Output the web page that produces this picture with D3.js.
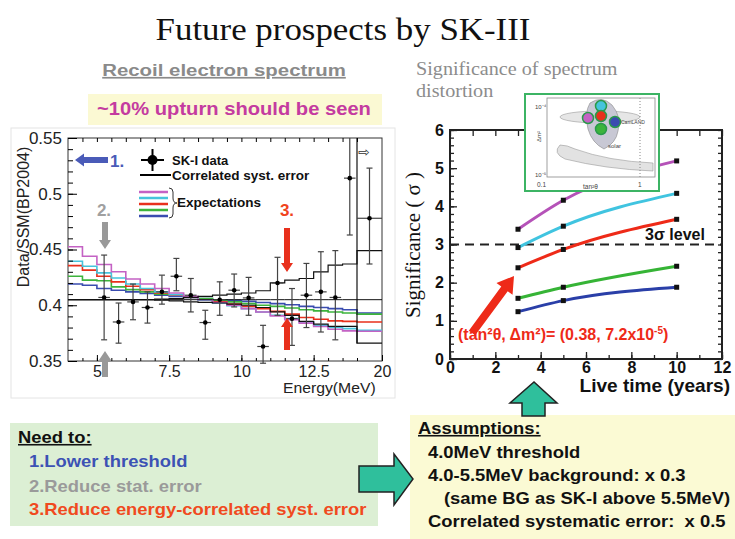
<!DOCTYPE html>
<html><head><meta charset="utf-8">
<script src="https://cdn.jsdelivr.net/npm/d3@7"></script>
<style>body{margin:0;background:#fff} svg{display:block} text{white-space:pre}</style>
</head><body><svg id="c" width="735" height="539"></svg>
<script>
// ---------- DATA: left panel (recoil electron spectrum) ----------
const binStarts = [4.0,4.5,5.0,5.5,6.0,6.5,7.0,7.5,8.0,8.5,9.0,9.5,10.0,10.5,11.0,11.5,12.0,12.5,13.0,13.5,14.0];
const binLast = 20;
const expPink  = [0.4525,0.444,0.4365,0.430,0.4235,0.419,0.415,0.411,0.408,0.405,0.4025,0.400,0.397,0.394,0.3905,0.387,0.384,0.381,0.3785,0.377,0.3767];
const expCyan  = [0.4395,0.435,0.429,0.4245,0.419,0.415,0.412,0.4095,0.407,0.4045,0.402,0.3995,0.397,0.394,0.391,0.388,0.385,0.382,0.380,0.379,0.3776];
const expRed   = [0.4355,0.4315,0.426,0.421,0.417,0.414,0.411,0.409,0.407,0.405,0.403,0.401,0.399,0.397,0.3945,0.392,0.389,0.3875,0.386,0.3855,0.385];
const expGreen = [0.426,0.4225,0.422,0.4165,0.414,0.412,0.410,0.409,0.4075,0.406,0.4045,0.403,0.4015,0.400,0.399,0.3975,0.396,0.395,0.394,0.393,0.392];
const expBlue  = [0.419,0.418,0.415,0.4135,0.412,0.4105,0.409,0.408,0.407,0.406,0.405,0.4045,0.4035,0.4025,0.4015,0.4005,0.399,0.398,0.397,0.396,0.393];
const systCentral = [0.405,0.405,0.405,0.405,0.405,0.405,0.405,0.405,0.405,0.405,0.405,0.405,0.405,0.405,0.405,0.405,0.405,0.405,0.405,0.405,0.405];
const systUpper = [0.405,0.405,0.405,0.405,0.405,0.405,0.4055,0.406,0.407,0.408,0.409,0.410,0.411,0.413,0.420,0.4225,0.424,0.430,0.436,0.437,0.449];
const systLower = [0.405,0.405,0.405,0.405,0.405,0.405,0.4045,0.404,0.403,0.4025,0.402,0.401,0.400,0.398,0.394,0.391,0.3855,0.383,0.381,0.381,0.366];
const dataE   = [5.25,5.75,6.25,6.75,7.25,7.75,8.25,8.75,9.25,9.75,10.25,10.75,11.25,11.75,12.25,12.75,13.25,13.75,17];
const dataVal = [0.407,0.385,0.403,0.398,0.412,0.426,0.409,0.3845,0.405,0.4135,0.4066,0.363,0.420,0.388,0.409,0.412,0.407,0.514,0.478];
const dataLo  = [0.369,0.366,0.387,0.384,0.401,0.413,0.394,0.3695,0.391,0.3985,0.391,0.348,0.391,0.364,0.380,0.376,0.369,0.463,0.437];
const dataHi  = [0.445,0.402,0.419,0.412,0.427,0.442,0.424,0.3955,0.421,0.428,0.425,0.382,0.443,0.415,0.4375,0.448,0.449,0.55,0.523];
const leftYTicks = [0.35,0.4,0.45,0.5,0.55];
const leftXTicks = [5,7.5,10,12.5,20];

// ---------- DATA: right panel (significance vs live time) ----------
const liveYears = [3,5,10];
const sigPink  = [3.40,4.16,5.19];
const sigCyan  = [2.92,3.48,4.34];
const sigRed   = [2.39,2.87,3.66];
const sigGreen = [1.59,1.88,2.43];
const sigBlue  = [1.24,1.53,1.88];
const rightXTicks = [0,2,4,6,8,10,12];
const rightYTicks = [0,1,2,3,4,5,6];

const svg = d3.select('#c');
const SANS = 'Liberation Sans, Arial, sans-serif';
const SERIF = 'Liberation Serif, Times New Roman, serif';
const C = {pink:'#c462c4', cyan:'#46c4dc', red:'#e8301c', green:'#3cb43c', blue:'#3a4cb0'};

function txt(parent, x, y, str, o){
  o = o||{};
  const t = parent.append('text')
    .attr('transform',`translate(${x},${y}) scale(${o.sx||1},1)`)
    .attr('font-family',o.family||SANS).attr('font-size',o.size||16)
    .attr('font-weight',o.bold?'bold':null).attr('fill',o.fill||'#111')
    .attr('text-anchor',o.anchor||'start');
  if(o.underline) t.attr('text-decoration','underline');
  if(o.html) t.html(str); else t.text(str);
  return t;
}

// ---------- titles ----------
txt(svg,343,40,'Future prospects by SK-III',{family:SERIF,size:32,sx:1.09,anchor:'middle'});
txt(svg,224,76,'Recoil electron spectrum',{size:17,bold:true,fill:'#8a8a8a',underline:true,sx:1.2,anchor:'middle'});
svg.append('rect').attr('x',88).attr('y',94).attr('width',294).attr('height',31).attr('fill','#fbf9d3');
txt(svg,234,115,'~10% upturn should be seen',{size:18,bold:true,fill:'#c43ba0',sx:1.12,anchor:'middle'});
txt(svg,416,75,'Significance of spectrum',{family:SERIF,size:18,fill:'#8c8c8c',sx:1.12});
txt(svg,416,97,'distortion',{family:SERIF,size:18,fill:'#8c8c8c',sx:1.12});

// ---------- left panel ----------
svg.append('rect').attr('x',11).attr('y',128).attr('width',384).attr('height',270).attr('fill','none').attr('stroke','#e4e4e4');
const xL = d3.scaleLinear().domain([4,14,20]).range([68,357,382]);
const yL = d3.scaleLinear().domain([0.35,0.55]).range([361,138]);
const gL = svg.append('g');
gL.append('rect').attr('x',68).attr('y',138).attr('width',314).attr('height',223).attr('fill','#fff').attr('stroke','#333').attr('stroke-width',1);

function stepPts(vals){ return binStarts.map((e,i)=>[e,vals[i]]).concat([[binLast, vals[vals.length-1]]]); }
const stepLine = d3.line().x(d=>xL(d[0])).y(d=>yL(d[1])).curve(d3.curveStepAfter);
[[expBlue,C.blue],[expGreen,C.green],[expRed,C.red],[expCyan,C.cyan],[expPink,C.pink]].forEach(([v,c])=>{
  gL.append('path').attr('d',stepLine(stepPts(v))).attr('fill','none').attr('stroke',c).attr('stroke-width',1.6);
});
[systCentral,systUpper,systLower].forEach((v,i)=>{
  gL.append('path').attr('d',stepLine(stepPts(v))).attr('fill','none').attr('stroke','#111').attr('stroke-width',i===0?1:1.2);
});
gL.append('line').attr('x1',xL(14)).attr('x2',xL(14)).attr('y1',yL(0.55)).attr('y2',yL(systLower[20])).attr('stroke','#111').attr('stroke-width',1.2);

dataE.forEach((e,i)=>{
  const x = xL(e), last = i===dataE.length-1;
  const g = gL.append('g').attr('stroke','#444').attr('stroke-width',1.2);
  g.append('line').attr('x1',x).attr('x2',x).attr('y1',yL(dataLo[i])).attr('y2',yL(dataHi[i]));
  g.append('line').attr('x1',x-3).attr('x2',x+3).attr('y1',yL(dataLo[i])).attr('y2',yL(dataLo[i]));
  if(dataHi[i]<0.55) g.append('line').attr('x1',x-3).attr('x2',x+3).attr('y1',yL(dataHi[i])).attr('y2',yL(dataHi[i]));
  const x1 = last ? xL(14) : xL(e-0.2), x2 = last ? xL(20) : xL(e+0.2);
  g.append('line').attr('x1',x1).attr('x2',x2).attr('y1',yL(dataVal[i])).attr('y2',yL(dataVal[i]));
  gL.append('circle').attr('cx',x).attr('cy',yL(dataVal[i])).attr('r',2.3).attr('fill','#000');
});
gL.append('text').attr('x',364).attr('y',157).attr('text-anchor','middle').attr('font-size',14).attr('font-family','DejaVu Sans').attr('fill','#333').text('⇨');

gL.append('g').attr('transform','translate(68,0)').call(d3.axisLeft(yL).tickValues(d3.range(0.35,0.5501,0.01)).tickSize(-5).tickFormat(''))
  .call(g=>g.select('.domain').remove());
gL.append('g').attr('transform','translate(68,0)').call(d3.axisLeft(yL).tickValues(leftYTicks).tickSize(-9).tickPadding(6).tickFormat(d3.format('')))
  .call(g=>{g.select('.domain').remove(); g.selectAll('text').attr('font-size',17).attr('font-family',SANS).attr('fill','#222');});
gL.append('g').attr('transform','translate(0,361)').call(d3.axisBottom(xL).tickValues(leftXTicks).tickSize(-6).tickPadding(5).tickFormat(d3.format('')))
  .call(g=>{g.select('.domain').remove(); g.selectAll('text').attr('font-size',16).attr('font-family',SANS).attr('fill','#222');});
gL.append('g').attr('transform','translate(0,361)').call(d3.axisBottom(xL).tickValues(d3.range(4.5,14.01,0.5)).tickSize(-3).tickFormat(''))
  .call(g=>g.select('.domain').remove());
gL.append('g').attr('transform','translate(0,138)').call(d3.axisTop(xL).tickValues(d3.range(4.5,14.01,0.5)).tickSize(-4).tickFormat(''))
  .call(g=>g.select('.domain').remove());
txt(gL,283,393,'Energy(MeV)',{size:15,fill:'#222',sx:1.05});
gL.append('text').attr('transform','translate(29,217) rotate(-90)').attr('text-anchor','middle').attr('font-family',SANS).attr('font-size',16).attr('fill','#222').text('Data/SSM(BP2004)');

const lg = gL.append('g');
lg.append('line').attr('x1',141).attr('x2',164).attr('y1',160).attr('y2',160).attr('stroke','#000').attr('stroke-width',2);
lg.append('line').attr('x1',152.5).attr('x2',152.5).attr('y1',149).attr('y2',171).attr('stroke','#000').attr('stroke-width',2);
lg.append('circle').attr('cx',152.5).attr('cy',160).attr('r',5).attr('fill','#000');
txt(lg,172,165,'SK-I data',{size:13,bold:true});
lg.append('line').attr('x1',140).attr('x2',171).attr('y1',175).attr('y2',175).attr('stroke','#000').attr('stroke-width',2);
txt(lg,172,180,'Correlated syst. error',{size:13,bold:true,sx:1.04});
[C.pink,C.cyan,C.red,C.green,C.blue].forEach((c,i)=>{
  lg.append('line').attr('x1',139).attr('x2',168).attr('y1',192+i*6).attr('y2',192+i*6).attr('stroke',c).attr('stroke-width',2.5);
});
lg.append('path').attr('d','M169,188 q4,0 4,4 v6 q0,5 4,5 q-4,0 -4,5 v6 q0,4 -4,4').attr('fill','none').attr('stroke','#333').attr('stroke-width',1);
txt(lg,177,207,'Expectations',{size:13,bold:true,sx:1.04});

function arrow(g, x1,y1,x2,y2, w, hw, hl, color){
  const dx=x2-x1, dy=y2-y1, L=Math.hypot(dx,dy), ux=dx/L, uy=dy/L, px=-uy, py=ux;
  const bx=x2-ux*hl, by=y2-uy*hl;
  const pts=[[x1+px*w/2,y1+py*w/2],[bx+px*w/2,by+py*w/2],[bx+px*hw/2,by+py*hw/2],[x2,y2],[bx-px*hw/2,by-py*hw/2],[bx-px*w/2,by-py*w/2],[x1-px*w/2,y1-py*w/2]];
  g.append('polygon').attr('points',pts.map(p=>p.join(',')).join(' ')).attr('fill',color);
}
arrow(gL,108,160,75,160,6,13,9,'#4a5bb8');
txt(gL,110,167,'1.',{size:17,bold:true,fill:'#4a5bb8'});
txt(gL,104,216,'2.',{size:17,bold:true,fill:'#a0a0a0',anchor:'middle'});
arrow(gL,105,222,105,249,6,12,9,'#999');
arrow(gL,105,377,105,351,6,12,9,'#999');
txt(gL,287,216,'3.',{size:17,bold:true,fill:'#f0441c',anchor:'middle'});
arrow(gL,287,228,287,272,6,12,9,'#e8301c');
arrow(gL,287,350,287,318,6,12,9,'#e8301c');

// ---------- right panel ----------
const xR = d3.scaleLinear().domain([0,12]).range([450,722]);
const yR = d3.scaleLinear().domain([0,6]).range([359,130]);
const gR = svg.append('g');
gR.append('rect').attr('x',450).attr('y',130).attr('width',272).attr('height',229).attr('fill','none').attr('stroke','#222').attr('stroke-width',2);
const fontB = g=>{g.select('.domain').remove(); g.selectAll('text').attr('font-size',16).attr('font-weight','bold').attr('font-family',SANS).attr('fill','#111');};
gR.append('g').attr('transform','translate(450,0)').call(d3.axisLeft(yR).tickValues(rightYTicks).tickSize(-7).tickPadding(6).tickFormat(d3.format('d'))).call(fontB);
gR.append('g').attr('transform','translate(450,0)').call(d3.axisLeft(yR).tickValues(d3.range(0,6.01,0.2)).tickSize(-4).tickFormat('')).call(g=>g.select('.domain').remove());
gR.append('g').attr('transform','translate(722,0)').call(d3.axisRight(yR).tickValues(d3.range(0,6.01,0.2)).tickSize(-4).tickFormat('')).call(g=>g.select('.domain').remove());
gR.append('g').attr('transform','translate(0,359)').call(d3.axisBottom(xR).tickValues(rightXTicks).tickSize(-7).tickPadding(3).tickFormat(d3.format('d'))).call(fontB);
gR.append('g').attr('transform','translate(0,359)').call(d3.axisBottom(xR).tickValues(d3.range(0,12.01,1)).tickSize(-4).tickFormat('')).call(g=>g.select('.domain').remove());
gR.append('g').attr('transform','translate(0,130)').call(d3.axisTop(xR).tickValues(d3.range(0,12.01,1)).tickSize(-6).tickFormat('')).call(g=>g.select('.domain').remove());
gR.selectAll('.tick line').attr('stroke','#222').attr('stroke-width',1.3);

gR.append('line').attr('x1',xR(0)).attr('x2',xR(12)).attr('y1',yR(3)).attr('y2',yR(3)).attr('stroke','#222').attr('stroke-width',2).attr('stroke-dasharray','9,6');
const lineR = d3.line().x((d,i)=>xR(liveYears[i])).y(d=>yR(d)).curve(d3.curveMonotoneX);
[[sigBlue,'#2a3fa8'],[sigGreen,'#36b436'],[sigRed,'#ee2a18'],[sigCyan,'#40c4e0'],[sigPink,'#b552b8']].forEach(([v,c])=>{
  gR.append('path').attr('d',lineR(v)).attr('fill','none').attr('stroke',c).attr('stroke-width',3);
  v.forEach((d,i)=>gR.append('rect').attr('x',xR(liveYears[i])-2.5).attr('y',yR(d)-2.5).attr('width',5).attr('height',5).attr('fill','#111'));
});
txt(gR,645,240,'3σ level',{size:16,bold:true});
gR.append('text').attr('transform','translate(420,245) rotate(-90)').attr('text-anchor','middle').attr('font-family',SERIF).attr('font-size',21).attr('fill','#111').text('Significance ( σ )');
txt(gR,730,392,'Live time (years)',{size:18,bold:true,anchor:'end',sx:1.06});
arrow(gR,472,333,514,276,8,20,16,'#ee2a18');
txt(gR,458,340,'(tan²θ, Δm²)= (0.38, 7.2x10<tspan font-size="10" dy="-6">-5</tspan><tspan dy="6">)</tspan>',{size:16,bold:true,fill:'#ee2a18',html:true});

// inset
const gi = svg.append('g');
gi.append('rect').attr('x',525).attr('y',94).attr('width',134).attr('height',97).attr('fill','#fff').attr('stroke','#3cb464').attr('stroke-width',2);
gi.append('rect').attr('x',547).attr('y',98).attr('width',108).attr('height',79).attr('fill','none').attr('stroke','#888').attr('stroke-width',0.8);
gi.append('path').attr('d','M560,145 q-8,8 5,14 q40,10 88,12 l0,-8 q-45,-2 -78,-14 q-8,-4 -15,-4z').attr('fill','#e2e2e2').attr('stroke','#999').attr('stroke-width',0.6);
gi.append('ellipse').attr('cx',600).attr('cy',117).attr('rx',40).attr('ry',6).attr('fill','#e6e6e6').attr('stroke','#999').attr('stroke-width',0.6);
gi.append('path').attr('d','M590,103 q12,-8 22,2 q10,12 6,26 q-2,12 -14,18 q-12,-6 -16,-20 q-4,-16 2,-26z').attr('fill','#c8c8d4').attr('stroke','#888').attr('stroke-width',0.6);
gi.append('line').attr('x1',640).attr('x2',640).attr('y1',98).attr('y2',177).attr('stroke','#888').attr('stroke-dasharray','1,2');
[[601,106,C.cyan],[588,118,C.pink],[601,116,C.red],[615,122,C.blue],[601,129,C.green]].forEach(([x,y,c])=>{
  gi.append('circle').attr('cx',x).attr('cy',y).attr('r',5.5).attr('fill',c).attr('stroke','#2a9a4a').attr('stroke-width',1.5);
});
const tiny = (x,y,t,s)=>gi.append('text').attr('x',x).attr('y',y).attr('font-family',SANS).attr('font-size',s||6).attr('fill','#444').text(t);
tiny(608,148,'solar');
tiny(621,124,'CamLAND',5);
tiny(537,187,'0.1',6.5); tiny(638,187,'1',6.5); tiny(583,189,'tan²θ',6.5);
tiny(535,109,'10⁻⁴',6); tiny(535,177,'10⁻⁵',6);
gi.append('text').attr('transform','translate(541,142) rotate(-90)').attr('font-family',SANS).attr('font-size',6).attr('fill','#444').text('Δm²');

// ---------- bottom boxes ----------
svg.append('rect').attr('x',10).attr('y',423).attr('width',368).attr('height',103).attr('fill','#dcefd4');
const bt = (x,y,t,c,u)=>txt(svg,x,y,t,{size:16,bold:true,fill:c,underline:u,sx:1.15});
bt(18,443,'Need to:','#111',true);
bt(29,467,'1.Lower threshold','#3c52b4');
bt(29,492,'2.Reduce stat. error','#9a9a9a');
bt(29,515,'3.Reduce energy-correlated syst. error','#f04a1e');
svg.append('rect').attr('x',410).attr('y',415).attr('width',325).attr('height',124).attr('fill','#fbfad4');
bt(418,434,'Assumptions:','#111',true);
bt(428,458,'4.0MeV threshold','#111');
bt(428,481,'4.0-5.5MeV background: x 0.3','#111');
bt(444,504,'(same BG as SK-I above 5.5MeV)','#111');
bt(428,527,'Correlated systematic error:  x 0.5','#111');
svg.append('polygon').attr('points','359,466 394,466 394,454 413,479 394,505 394,492 359,492').attr('fill','#2fbf9c').attr('stroke','#222').attr('stroke-width',1.5);
svg.append('polygon').attr('points','522,416 522,403 510,403 534,382 557,403 545,403 545,416').attr('fill','#2fbf9c').attr('stroke','#222').attr('stroke-width',1.5);
</script></body></html>
